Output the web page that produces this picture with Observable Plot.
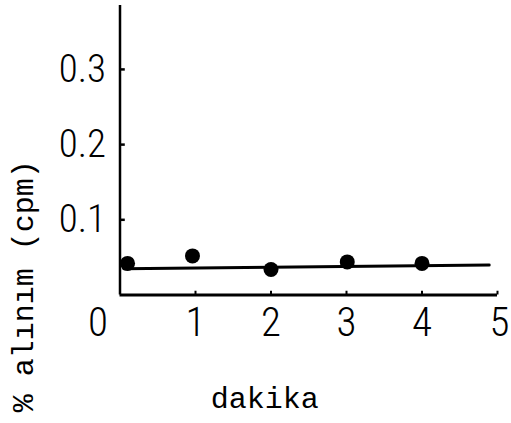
<!DOCTYPE html>
<html><head><meta charset="utf-8">
<script src="https://cdn.jsdelivr.net/npm/d3@7"></script>
<script src="https://cdn.jsdelivr.net/npm/@observablehq/plot@0.6"></script>
<style>body{margin:0;background:#fff}</style>
</head><body><div id="chart"></div>
<script>
const minutes = [0.1, 0.96, 2.0, 3.01, 4.0];
const uptake = [0.042, 0.052, 0.034, 0.044, 0.042];
const fitX = [0.05, 4.89];
const fitY = [0.035, 0.040];
const xTicks = [0, 1, 2, 3, 4, 5];
const yTicks = [0.1, 0.2, 0.3];
const yLabel = "% alınım (cpm)";
const xLabel = "dakika";

const points = minutes.map((m, i) => ({x: m, y: uptake[i]}));
const fit = fitX.map((x, i) => ({x, y: fitY[i]}));
const numFont = "'Roboto Condensed', 'Liberation Sans Narrow', sans-serif";
const typeFont = "'Liberation Mono', monospace";
const fmt = d => String(d);
const yTickLen = 0.07;   // inward tick length, in x units
const xTickLen = 0.005;  // inward tick length, in y units

const chart = Plot.plot({
  width: 511,
  height: 423,
  marginLeft: 119.5,
  marginRight: 14,
  marginTop: 5,
  marginBottom: 128.5,
  x: {domain: [0, 5]},
  y: {domain: [0, 0.385]},
  style: {background: "white", color: "black"},
  marks: [
    Plot.ruleY([0], {x1: 0, x2: 5, strokeWidth: 3}),
    Plot.ruleX([0], {y1: 0, y2: 0.385, strokeWidth: 2.5}),
    Plot.ruleY(yTicks, {x1: 0, x2: yTickLen, strokeWidth: 2.5}),
    Plot.ruleX(xTicks.slice(1), {y1: 0, y2: xTickLen, strokeWidth: 2}),
    Plot.axisY({ticks: yTicks, tickSize: 0, tickPadding: 14, tickFormat: fmt, fontSize: 39, fontWeight: 300, fontFamily: numFont, label: null}),
    Plot.axisX({ticks: xTicks.slice(1, 5), tickSize: 0, tickPadding: 12, tickFormat: fmt, fontSize: 41, fontWeight: 300, fontFamily: numFont, label: null}),
    Plot.axisX({ticks: xTicks.slice(0, 1), tickSize: 0, tickPadding: 12, tickFormat: fmt, dx: -22, fontSize: 41, fontWeight: 300, fontFamily: numFont, label: null}),
    Plot.axisX({ticks: xTicks.slice(5), tickSize: 0, tickPadding: 12, tickFormat: fmt, dx: 2, fontSize: 41, fontWeight: 300, fontFamily: numFont, label: null}),
    Plot.line(fit, {x: "x", y: "y", strokeWidth: 3}),
    Plot.dot(points, {x: "x", y: "y", r: 7.5, fill: "black"}),
    Plot.text([yLabel], {frameAnchor: "left", textAnchor: "middle", rotate: -90, dx: -97, dy: 136, fontSize: 30, fontFamily: typeFont}),
    Plot.text([xLabel], {frameAnchor: "bottom", dx: -44, dy: 113, fontSize: 30, fontFamily: typeFont})
  ]
});
document.getElementById("chart").appendChild(chart);
</script>
</body></html>
